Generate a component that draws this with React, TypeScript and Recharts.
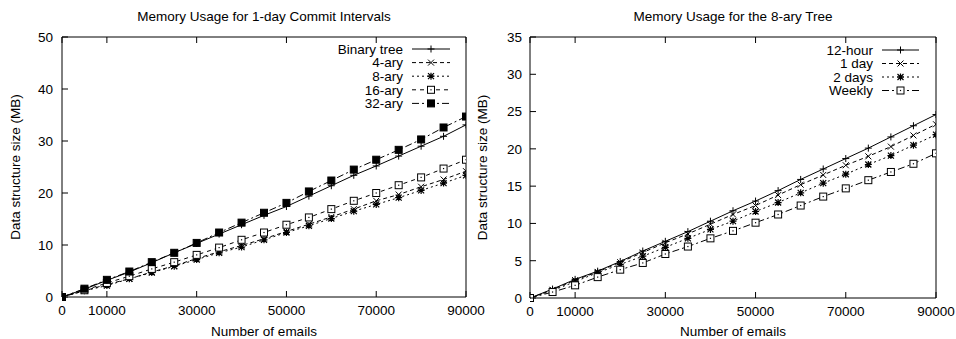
import React from 'react';
import { LineChart, Line, XAxis, YAxis, Legend } from 'recharts';

const FONT = '"Liberation Sans", Arial, Helvetica, sans-serif';
const FS = 13.5;

// Shared x values (number of emails)
const EMAILS = [0, 5000, 10000, 15000, 20000, 25000, 30000, 35000, 40000, 45000, 50000, 55000, 60000, 65000, 70000, 75000, 80000, 85000, 90000];
const X_TICKS = [0, 10000, 30000, 50000, 70000, 90000];

// Left panel: Memory Usage for 1-day Commit Intervals
const LEFT_TITLE = 'Memory Usage for 1-day Commit Intervals';
const LEFT_Y_TICKS = [0, 10, 20, 30, 40, 50];
const BINARY_TREE = [0, 1.5, 3.2, 4.8, 6.6, 8.5, 10.3, 12.1, 13.9, 15.7, 17.4, 19.4, 21.4, 23.4, 25.2, 27.1, 29.0, 30.9, 33.1];
const ARY_4 = [0, 1.2, 2.4, 3.5, 4.8, 6.0, 7.4, 8.7, 9.9, 11.2, 12.6, 14.0, 15.4, 16.9, 18.5, 19.7, 21.2, 22.6, 24.2];
const ARY_8 = [0, 1.2, 2.2, 3.5, 4.7, 5.9, 7.2, 8.5, 9.6, 11.0, 12.4, 13.7, 15.1, 16.5, 17.8, 19.1, 20.5, 21.9, 23.4];
const ARY_16 = [0, 1.3, 2.7, 4.0, 5.4, 6.7, 8.1, 9.5, 11.0, 12.4, 13.9, 15.3, 16.9, 18.5, 20.0, 21.5, 23.0, 24.7, 26.4];
const ARY_32 = [0, 1.6, 3.3, 4.9, 6.7, 8.5, 10.4, 12.4, 14.3, 16.2, 18.1, 20.3, 22.4, 24.5, 26.4, 28.3, 30.3, 32.6, 34.7];

// Right panel: Memory Usage for the 8-ary Tree
const RIGHT_TITLE = 'Memory Usage for the 8-ary Tree';
const RIGHT_Y_TICKS = [0, 5, 10, 15, 20, 25, 30, 35];
const HOUR_12 = [0, 1.2, 2.5, 3.6, 4.9, 6.3, 7.6, 8.9, 10.3, 11.7, 13.0, 14.4, 15.9, 17.3, 18.7, 20.1, 21.6, 23.1, 24.6];
const DAY_1 = [0, 1.1, 2.4, 3.5, 4.8, 6.1, 7.4, 8.6, 9.9, 11.2, 12.4, 13.8, 15.2, 16.5, 17.8, 19.0, 20.3, 21.8, 23.3];
const DAYS_2 = [0, 1.0, 2.2, 3.4, 4.5, 5.6, 6.8, 8.0, 9.2, 10.3, 11.6, 12.8, 14.1, 15.4, 16.6, 17.9, 19.1, 20.5, 21.9];
const WEEKLY = [0, 0.8, 1.7, 2.8, 3.8, 4.7, 5.9, 6.9, 8.0, 9.0, 10.1, 11.2, 12.4, 13.6, 14.7, 15.8, 16.9, 18.0, 19.4];

const X_LABEL = 'Number of emails';
const Y_LABEL = 'Data structure size (MB)';

type Kind = 'plus' | 'cross' | 'star' | 'box' | 'fbox';
type Series = { key: string; name: string; values: number[]; dash?: string; kind: Kind };

const LEFT_SERIES: Series[] = [
  { key: 'binary', name: 'Binary tree', values: BINARY_TREE, kind: 'plus' },
  { key: 'a4', name: '4-ary', values: ARY_4, dash: '4 3', kind: 'cross' },
  { key: 'a8', name: '8-ary', values: ARY_8, dash: '2 3', kind: 'star' },
  { key: 'a16', name: '16-ary', values: ARY_16, dash: '4 4', kind: 'box' },
  { key: 'a32', name: '32-ary', values: ARY_32, dash: '7 3 2 3', kind: 'fbox' },
];

const RIGHT_SERIES: Series[] = [
  { key: 'h12', name: '12-hour', values: HOUR_12, kind: 'plus' },
  { key: 'd1', name: '1 day', values: DAY_1, dash: '4 3', kind: 'cross' },
  { key: 'd2', name: '2 days', values: DAYS_2, dash: '2 3', kind: 'star' },
  { key: 'wk', name: 'Weekly', values: WEEKLY, dash: '7 3 2 3', kind: 'box' },
];

function Marker({ kind, cx, cy }: { kind: Kind; cx: number; cy: number }) {
  const s = 3.5;
  const c = 3;
  if (cx == null || cy == null || isNaN(cx) || isNaN(cy)) return null;
  if (kind === 'plus') {
    return <path d={`M${cx - s},${cy}H${cx + s}M${cx},${cy - s}V${cy + s}`} stroke="#000" strokeWidth={1} fill="none" />;
  }
  if (kind === 'cross') {
    return <path d={`M${cx - c},${cy - c}L${cx + c},${cy + c}M${cx - c},${cy + c}L${cx + c},${cy - c}`} stroke="#000" strokeWidth={1} fill="none" />;
  }
  if (kind === 'star') {
    return (
      <path
        d={`M${cx - s},${cy}H${cx + s}M${cx},${cy - s}V${cy + s}M${cx - c},${cy - c}L${cx + c},${cy + c}M${cx - c},${cy + c}L${cx + c},${cy - c}`}
        stroke="#000"
        strokeWidth={1.2}
        fill="none"
      />
    );
  }
  if (kind === 'box') {
    return (
      <g>
        <rect x={cx - 3.5} y={cy - 3.5} width={7} height={7} stroke="#000" strokeWidth={1} fill="#fff" />
        <rect x={cx - 0.6} y={cy - 0.6} width={1.2} height={1.2} fill="#000" />
      </g>
    );
  }
  return <rect x={cx - 3.5} y={cy - 3.5} width={7} height={7} fill="#000" stroke="#000" strokeWidth={1} />;
}

const BottomTick = (props: any) => {
  const { x, y, payload } = props;
  return (
    <g>
      <line x1={x} y1={y} x2={x} y2={y - 6} stroke="#000" strokeWidth={1} />
      <text x={x} y={y + 18} textAnchor="middle" fontSize={FS} fontFamily={FONT} fill="#000">
        {payload.value}
      </text>
    </g>
  );
};

const TopTick = (props: any) => {
  const { x, y } = props;
  return <line x1={x} y1={y} x2={x} y2={y + 6} stroke="#000" strokeWidth={1} />;
};

const makeLeftTick = (gap: number) => (props: any) => {
  const { x, y, payload } = props;
  return (
    <g>
      <line x1={x} y1={y} x2={x + 6} y2={y} stroke="#000" strokeWidth={1} />
      <text x={x - gap} y={y + 4.8} textAnchor="end" fontSize={FS} fontFamily={FONT} fill="#000">
        {payload.value}
      </text>
    </g>
  );
};

const RightTick = (props: any) => {
  const { x, y } = props;
  return <line x1={x} y1={y} x2={x - 6} y2={y} stroke="#000" strokeWidth={1} />;
};

type PanelProps = {
  left: number;
  title: string;
  series: Series[];
  yMax: number;
  yTicks: number[];
  yAxisWidth: number;
  xAxisHeight: number;
  marginRight: number;
  yLabelX: number;
  tickGap: number;
  legendLeft: number;
  legendTop: number;
  legendTextRight: number;
  legendLine: [number, number];
  legendRowStart: number;
  legendRowStep: number;
};

const WIDTH = 490;
const HEIGHT = 339;

function Panel(p: PanelProps) {
  const rows = EMAILS.map((x, i) => {
    const r: any = { x };
    p.series.forEach((s) => {
      r[s.key] = s.values[i];
    });
    return r;
  });
  const plotLeft = p.yAxisWidth;
  const plotRight = WIDTH - p.marginRight - 1;
  const cx = (plotLeft + plotRight) / 2;
  const plotTop = 37;
  const plotBottom = HEIGHT - p.xAxisHeight;
  const cy = (plotTop + plotBottom) / 2;

  const legendContent = () => (
    <svg width={170} height={80} style={{ display: 'block', overflow: 'visible' }}>
      {p.series.map((s, i) => {
        const y = p.legendRowStart + i * p.legendRowStep;
        const mx = (p.legendLine[0] + p.legendLine[1]) / 2;
        return (
          <g key={s.key}>
            <text x={p.legendTextRight} y={y + 4.8} textAnchor="end" fontSize={FS} fontFamily={FONT} fill="#000">
              {s.name}
            </text>
            <line x1={p.legendLine[0]} y1={y} x2={p.legendLine[1]} y2={y} stroke="#000" strokeWidth={1} strokeDasharray={s.dash} />
            <Marker kind={s.kind} cx={mx} cy={y} />
          </g>
        );
      })}
    </svg>
  );

  return (
    <div style={{ position: 'absolute', left: p.left, top: 0 }}>
      <LineChart width={WIDTH} height={HEIGHT} data={rows} margin={{ top: 36, right: p.marginRight, bottom: 0, left: 0 }}>
        <XAxis
          dataKey="x"
          type="number"
          domain={[0, 90000]}
          ticks={X_TICKS}
          interval={0}
          height={p.xAxisHeight}
          tickSize={0}
          tickMargin={0}
          tickLine={false}
          axisLine={{ stroke: '#000', strokeWidth: 1 }}
          tick={BottomTick}
          allowDataOverflow
          label={() => (
            <text x={cx} y={336} textAnchor="middle" fontSize={FS} fontFamily={FONT} fill="#000">
              {X_LABEL}
            </text>
          )}
        />
        <XAxis
          xAxisId="top"
          orientation="top"
          dataKey="x"
          type="number"
          domain={[0, 90000]}
          ticks={X_TICKS}
          interval={0}
          height={1}
          tickSize={0}
          tickMargin={0}
          tickLine={false}
          axisLine={{ stroke: '#000', strokeWidth: 1 }}
          tick={TopTick}
          label={() => (
            <text x={cx} y={21} textAnchor="middle" fontSize={FS} fontFamily={FONT} fill="#000">
              {p.title}
            </text>
          )}
        />
        <YAxis
          type="number"
          domain={[0, p.yMax]}
          ticks={p.yTicks}
          interval={0}
          width={p.yAxisWidth}
          tickSize={0}
          tickMargin={0}
          tickLine={false}
          axisLine={{ stroke: '#000', strokeWidth: 1 }}
          tick={makeLeftTick(p.tickGap)}
          label={() => (
            <text
              x={p.yLabelX}
              y={cy}
              transform={`rotate(-90, ${p.yLabelX}, ${cy})`}
              textAnchor="middle"
              dominantBaseline="central"
              fontSize={FS}
              fontFamily={FONT}
              fill="#000"
            >
              {Y_LABEL}
            </text>
          )}
        />
        <YAxis
          yAxisId="right"
          orientation="right"
          type="number"
          domain={[0, p.yMax]}
          ticks={p.yTicks}
          interval={0}
          width={1}
          tickSize={0}
          tickMargin={0}
          tickLine={false}
          axisLine={{ stroke: '#000', strokeWidth: 1 }}
          tick={RightTick}
        />
        {p.series.map((s) => (
          <Line
            key={s.key}
            dataKey={s.key}
            name={s.name}
            type="linear"
            stroke="#000"
            strokeWidth={1}
            strokeDasharray={s.dash}
            isAnimationActive={false}
            activeDot={false}
            dot={(d: any) => <Marker key={`${s.key}-${d.index}`} kind={s.kind} cx={d.cx} cy={d.cy} />}
          />
        ))}
        <Legend
          layout="horizontal"
          verticalAlign="middle"
          align="center"
          wrapperStyle={{ left: p.legendLeft, top: p.legendTop, width: 170, height: 80 }}
          content={legendContent}
        />
      </LineChart>
    </div>
  );
}

export default function App() {
  return (
    <div style={{ position: 'absolute', left: 0, top: 0, width: 956, height: 339, background: '#fff', overflow: 'hidden' }}>
      <Panel
        left={0}
        title={LEFT_TITLE}
        series={LEFT_SERIES}
        yMax={50}
        yTicks={LEFT_Y_TICKS}
        yAxisWidth={62}
        xAxisHeight={42}
        marginRight={23}
        yLabelX={15}
        tickGap={9}
        legendLeft={320}
        legendTop={40}
        legendTextRight={83}
        legendLine={[92, 130]}
        legendRowStart={9}
        legendRowStep={13.6}
      />
      <Panel
        left={466}
        title={RIGHT_TITLE}
        series={RIGHT_SERIES}
        yMax={35}
        yTicks={RIGHT_Y_TICKS}
        yAxisWidth={64}
        xAxisHeight={41}
        marginRight={19}
        yLabelX={16}
        tickGap={8}
        legendLeft={320}
        legendTop={40}
        legendTextRight={87}
        legendLine={[96, 133]}
        legendRowStart={10}
        legendRowStep={13.5}
      />
    </div>
  );
}
